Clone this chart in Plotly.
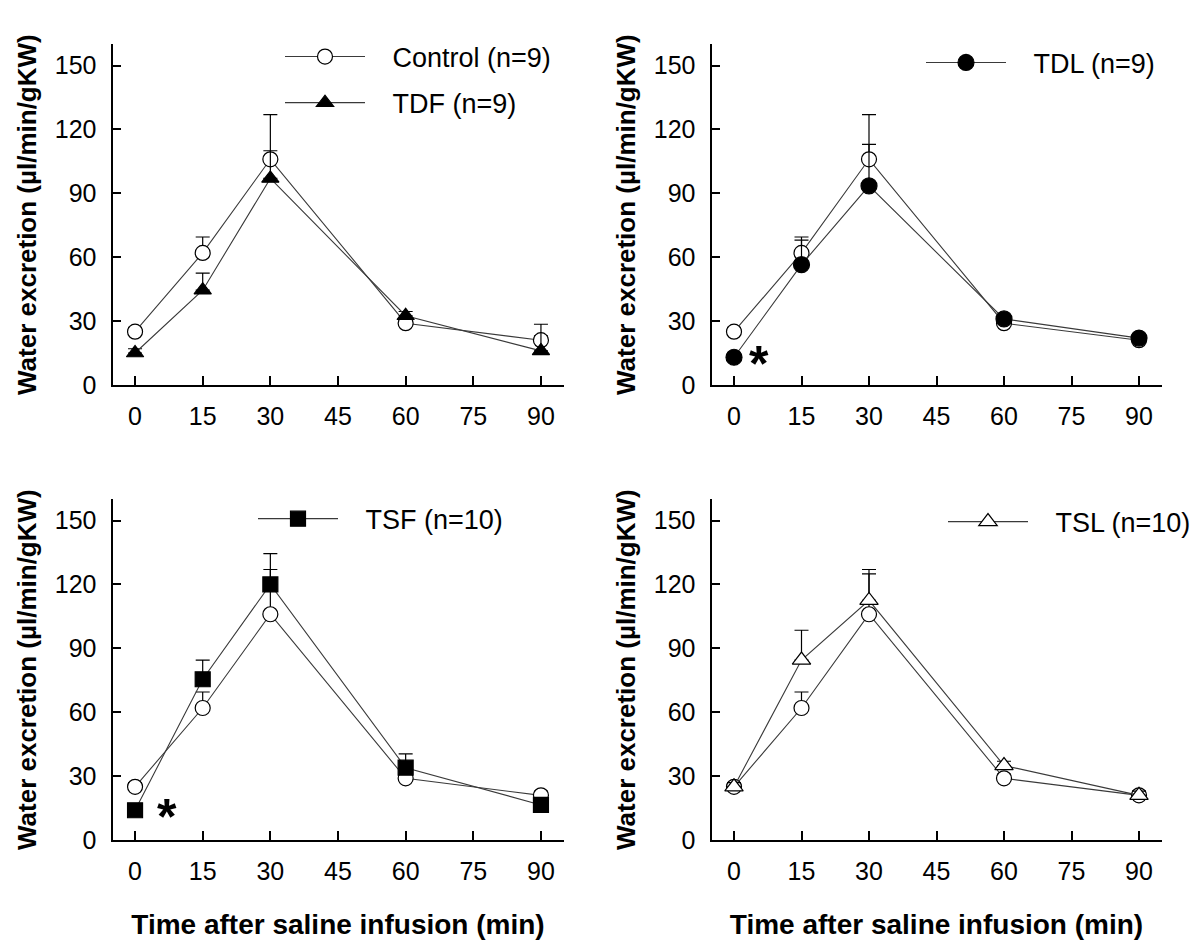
import plotly.graph_objects as go

# ---- data ----
time_min = [0, 15, 30, 60, 90]
x_ticks = [0, 15, 30, 45, 60, 75, 90]
y_ticks = [0, 30, 60, 90, 120, 150]

control_mean = [25, 62, 106, 29, 21]
control_se = [2, 7.5, 21, 2, 2]

tdf_mean = [15, 44.5, 97, 32.5, 16]
tdf_se = [2, 8, 13, 2, 12.5]

tdl_mean = [13, 56.5, 93.5, 31, 22]
tdl_se = [2, 11.5, 19.5, 2, 2]

tsf_mean = [14, 75.5, 120, 34, 16.5]
tsf_se = [2, 9, 14.5, 6.5, 2]

tsl_mean = [25, 84.5, 112.5, 35, 21]
tsl_se = [2, 14, 12.5, 2, 2]

control_name = "Control (n=9)"
group_names = ["TDF (n=9)", "TDL (n=9)", "TSF (n=10)", "TSL (n=10)"]
group_means = [tdf_mean, tdl_mean, tsf_mean, tsl_mean]
group_ses = [tdf_se, tdl_se, tsf_se, tsl_se]
group_symbols = ["triangle-up", "circle", "square", "triangle-up"]
group_fill = ["black", "black", "black", "white"]
group_sizes = [15, 16, 15, 16]

FONT = "Liberation Sans, Arial, sans-serif"
LINE_COL = "#3a3a3a"
PAD = "\u00a0\u00a0\u00a0"

fig = go.Figure()

axis_ids = ["", "2", "3", "4"]
legend_ids = ["legend", "legend2", "legend3", "legend4"]

for i, ax in enumerate(axis_ids):
    xref = "x" + ax
    yref = "y" + ax
    # control
    fig.add_trace(go.Scatter(
        x=time_min, y=control_mean, xaxis=xref, yaxis=yref,
        mode="lines+markers", name=PAD + control_name,
        line=dict(color=LINE_COL, width=1.1),
        marker=dict(symbol="circle", size=15, color="white",
                    line=dict(color="black", width=1.2)),
        error_y=dict(type="data", array=control_se,
                     arrayminus=[0] * len(control_se), symmetric=False,
                     color="black", thickness=1.2, width=7),
        showlegend=(i == 0), legend=legend_ids[0],
        legendgroup="ctrl",
    ))
    # treatment group
    fig.add_trace(go.Scatter(
        x=time_min, y=group_means[i], xaxis=xref, yaxis=yref,
        mode="lines+markers", name=PAD + group_names[i],
        line=dict(color=LINE_COL, width=1.1),
        marker=dict(symbol=group_symbols[i], size=group_sizes[i],
                    color=group_fill[i],
                    line=dict(color="black", width=1.2)),
        error_y=dict(type="data", array=group_ses[i],
                     arrayminus=[0] * len(group_ses[i]), symmetric=False,
                     color="black", thickness=1.2, width=7),
        showlegend=True, legend=legend_ids[i],
        legendgroup="g%d" % i,
    ))

W, H = 1200, 947
xdom_left = [112.5 / W, 563.5 / W]
xdom_right = [711.5 / W, 1161.5 / W]
ydom_top = [1 - 390.7 / H, 1 - 45 / H]
ydom_bot = [1 - 852.7 / H, 1 - 506.7 / H]

doms = [(xdom_left, ydom_top), (xdom_right, ydom_top),
        (xdom_left, ydom_bot), (xdom_right, ydom_bot)]

layout = dict(
    width=W, height=H,
    margin=dict(l=0, r=0, t=0, b=0),
    paper_bgcolor="white", plot_bgcolor="white",
    font=dict(family=FONT, color="black", size=25),
)

for i, ax in enumerate(axis_ids):
    xd, yd = doms[i]
    xa = dict(
        domain=xd, anchor="y" + ax, range=[-5, 95],
        tickmode="array", tickvals=x_ticks,
        ticks="inside", ticklen=9, tickwidth=1.5, tickcolor="black",
        showline=True, linecolor="black", linewidth=2,
        showgrid=False, zeroline=False,
        tickfont=dict(size=25, family=FONT, color="black"),
        ticklabelstandoff=8,
    )
    if i >= 2:
        xa["title"] = dict(text="<b>Time after saline infusion (min)</b>",
                           font=dict(size=28, family=FONT, color="black"),
                           standoff=30)
    ya = dict(
        domain=yd, anchor="x" + ax, range=[0, 160],
        tickmode="array", tickvals=y_ticks,
        ticks="inside", ticklen=8, tickwidth=1.5, tickcolor="black",
        showline=True, linecolor="black", linewidth=2,
        showgrid=False, zeroline=False,
        tickfont=dict(size=25, family=FONT, color="black"),
        ticklabelstandoff=9,
        title=dict(text="<b>Water excretion (µl/min/gKW)</b>",
                   font=dict(size=26, family=FONT, color="black"),
                   standoff=11),
    )
    layout["xaxis" + ax] = xa
    layout["yaxis" + ax] = ya

leg_common = dict(
    bgcolor="rgba(0,0,0,0)", borderwidth=0,
    font=dict(size=27, family=FONT, color="black"),
    itemwidth=80, xanchor="left", yanchor="top",
    traceorder="grouped", tracegroupgap=8,
)
legend_pos = [(280, 33), (921, 39), (253, 502), (943, 505)]
for i, lid in enumerate(legend_ids):
    lx, ly = legend_pos[i]
    layout[lid] = dict(leg_common, x=lx / W, y=1 - ly / H)

layout["annotations"] = [
    dict(text="<b>*</b>", x=5.5, y=13, xref="x2", yref="y2",
         showarrow=False, font=dict(size=50, family=FONT, color="black"),
         xanchor="center", yanchor="middle", yshift=-7),
    dict(text="<b>*</b>", x=7.0, y=14, xref="x3", yref="y3",
         showarrow=False, font=dict(size=50, family=FONT, color="black"),
         xanchor="center", yanchor="middle", yshift=-7),
]

fig.update_layout(layout)
fig.write_html("out.html", config={"displayModeBar": False},
               post_script="document.body.style.margin='0';")
